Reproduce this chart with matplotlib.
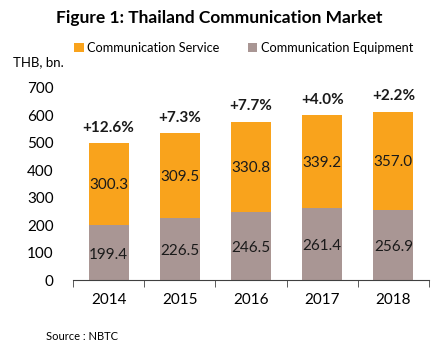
import matplotlib.pyplot as plt
import numpy as np

plt.rcParams['font.family'] = ['Lato', 'DejaVu Sans']

years = ['2014', '2015', '2016', '2017', '2018']
equipment = [199.4, 226.5, 246.5, 261.4, 256.9]
service = [300.3, 309.5, 330.8, 339.2, 357.0]
growth = ['+12.6%', '+7.3%', '+7.7%', '+4.0%', '+2.2%']

orange = '#F9A31C'
grey = '#A99694'

fig = plt.figure(figsize=(4.39, 3.5), dpi=100)
ax = fig.add_axes([73 / 439, 0.2, 356 / 439, 0.5486])

x = np.arange(len(years))
ax.bar(x, equipment, width=0.56, color=grey, label='Communication Equipment')
ax.bar(x, service, width=0.56, bottom=equipment, color=orange, label='Communication Service')

for i in range(len(years)):
    ax.text(x[i], equipment[i] / 2 - 8, f'{equipment[i]:.1f}', ha='center', va='center', fontsize=11, color='#1a1a1a')
    ax.text(x[i], equipment[i] + service[i] / 2 - 5, f'{service[i]:.1f}', ha='center', va='center', fontsize=11, color='#1a1a1a')
    ax.annotate(growth[i], (x[i], equipment[i] + service[i]), xytext=(0, 6), textcoords='offset points',
                ha='center', va='bottom', fontsize=11, fontweight='bold', color='#1a1a1a')

ax.set_xlim(-0.5, len(years) - 0.5)
ax.set_ylim(0, 700)
ax.set_yticks(range(0, 701, 100))
ax.set_xticks(x)
ax.set_xticklabels(years)
ax.set_xticks(np.arange(-0.5, len(years)), minor=True)
ax.tick_params(axis='x', which='major', length=0, pad=9, labelsize=11)
ax.tick_params(axis='x', which='minor', length=5, direction='out', color='#404040')
ax.tick_params(axis='y', length=0, pad=14, labelsize=11)
for side in ['top', 'right', 'left']:
    ax.spines[side].set_visible(False)
ax.spines['bottom'].set_color('#404040')

fig.text(0.5, 0.948, 'Figure 1: Thailand Communication Market', ha='center', va='center',
         fontsize=12.5, fontweight='bold')
fig.text(13 / 439, 1 - 62 / 350, 'THB, bn.', ha='left', va='center', fontsize=9.5)
fig.text(46 / 439, 1 - 336 / 350, 'Source : NBTC', ha='left', va='center', fontsize=8)

handles, labels = ax.get_legend_handles_labels()
fig.legend(handles[::-1], labels[::-1], loc='center', bbox_to_anchor=(0.555, 1 - 48 / 350), ncol=2,
           frameon=False, fontsize=9.2, handlelength=0.75, handleheight=0.75, handletextpad=0.3,
           columnspacing=2.2)

fig.savefig('out.png', dpi=100)
